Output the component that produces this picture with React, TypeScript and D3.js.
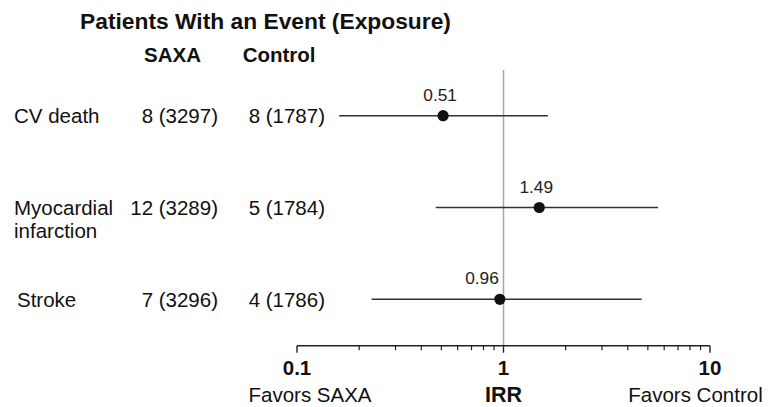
import React from "react";
import * as d3 from "d3";

// forest plot data
const outcomes = ["CV death", "Myocardial infarction", "Stroke"];
const saxaEvents = [8, 12, 7];
const saxaExposure = [3297, 3289, 3296];
const controlEvents = [8, 5, 4];
const controlExposure = [1787, 1784, 1786];
const irr = [0.51, 1.49, 0.96];
const irrLow = [0.16, 0.47, 0.23];
const irrHigh = [1.64, 5.6, 4.67];
const majorTicks = [0.1, 1, 10];
const minorTicks = [0.2, 0.3, 0.4, 0.5, 0.6, 0.7, 0.8, 0.9, 2, 3, 4, 5, 6, 7, 8, 9];

const width = 771;
const height = 407;
const font = "'Liberation Sans', Arial, Helvetica, sans-serif";

const App: React.FC = () => {
  const x = d3.scaleLog().domain([0.1, 10]).range([297, 710]);
  const y = d3.scalePoint<string>().domain(outcomes).range([115.7, 299.3]);
  const axisY = 345.7;

  const rows = outcomes.map((name, i) => ({
    name,
    saxa: `${saxaEvents[i]} (${saxaExposure[i]})`,
    control: `${controlEvents[i]} (${controlExposure[i]})`,
    irr: irr[i],
    lo: irrLow[i],
    hi: irrHigh[i],
  }));

  return (
    <svg
      width={width}
      height={height}
      style={{ position: "absolute", left: 0, top: 0, background: "#fff" }}
      fontFamily={font}
    >
      {/* headers */}
      <text x={80} y={29.3} fontSize={22.8} fontWeight="bold" fill="#111">
        Patients With an Event (Exposure)
      </text>
      <text x={144} y={61.7} fontSize={20.5} fontWeight="bold" fill="#111">
        SAXA
      </text>
      <text x={242.7} y={61.7} fontSize={20.5} fontWeight="bold" fill="#111">
        Control
      </text>

      {/* reference line at IRR = 1 */}
      <line x1={x(1)} x2={x(1)} y1={70} y2={axisY} stroke="#a8a8a8" strokeWidth={1.5} />

      {rows.map((d) => {
        const cy = y(d.name) as number;
        const words = d.name === "Myocardial infarction" ? ["Myocardial", "infarction"] : [d.name];
        const nearRef = Math.abs(Math.log10(d.irr)) < 0.05;
        return (
          <g key={d.name}>
            <text x={14} y={cy + 7.5} fontSize={20.5} fill="#111">
              {words.map((w, k) => (
                <tspan key={w} x={d.name === "Stroke" ? 17 : 14} dy={k === 0 ? 0 : 23}>
                  {w}
                </tspan>
              ))}
            </text>
            <text x={218} y={cy + 7.5} fontSize={20.5} fill="#111" textAnchor="end">
              {d.saxa}
            </text>
            <text x={325} y={cy + 7.5} fontSize={20.5} fill="#111" textAnchor="end">
              {d.control}
            </text>
            <line x1={x(d.lo)} x2={x(d.hi)} y1={cy} y2={cy} stroke="#333" strokeWidth={1.4} />
            <circle cx={x(d.irr)} cy={cy} r={5.6} fill="#111" />
            <text
              x={nearRef ? x(d.irr) - 1 : x(d.irr) - 3}
              y={cy - 15}
              fontSize={17.3}
              fill="#222"
              textAnchor={nearRef ? "end" : "middle"}
            >
              {d.irr.toFixed(2)}
            </text>
          </g>
        );
      })}

      {/* log axis */}
      <line x1={x(0.1)} x2={x(10)} y1={axisY} y2={axisY} stroke="#222" strokeWidth={1.4} />
      {majorTicks.map((t) => (
        <g key={t}>
          <line x1={x(t)} x2={x(t)} y1={axisY} y2={axisY + 7} stroke="#222" strokeWidth={1.4} />
          <text x={x(t)} y={375} fontSize={20.5} fontWeight="bold" textAnchor="middle" fill="#111">
            {t}
          </text>
        </g>
      ))}
      {minorTicks.map((t) => (
        <line key={t} x1={x(t)} x2={x(t)} y1={axisY} y2={axisY + 4.5} stroke="#222" strokeWidth={1.2} />
      ))}

      <text x={x(0.1) - 48.5} y={401.5} fontSize={20.5} fill="#111">
        Favors SAXA
      </text>
      <text x={x(1)} y={401.5} fontSize={21.5} fontWeight="bold" textAnchor="middle" fill="#111">
        IRR
      </text>
      <text x={x(10) + 52.7} y={401.5} fontSize={20.5} fill="#111" textAnchor="end">
        Favors Control
      </text>
    </svg>
  );
};

export default App;
